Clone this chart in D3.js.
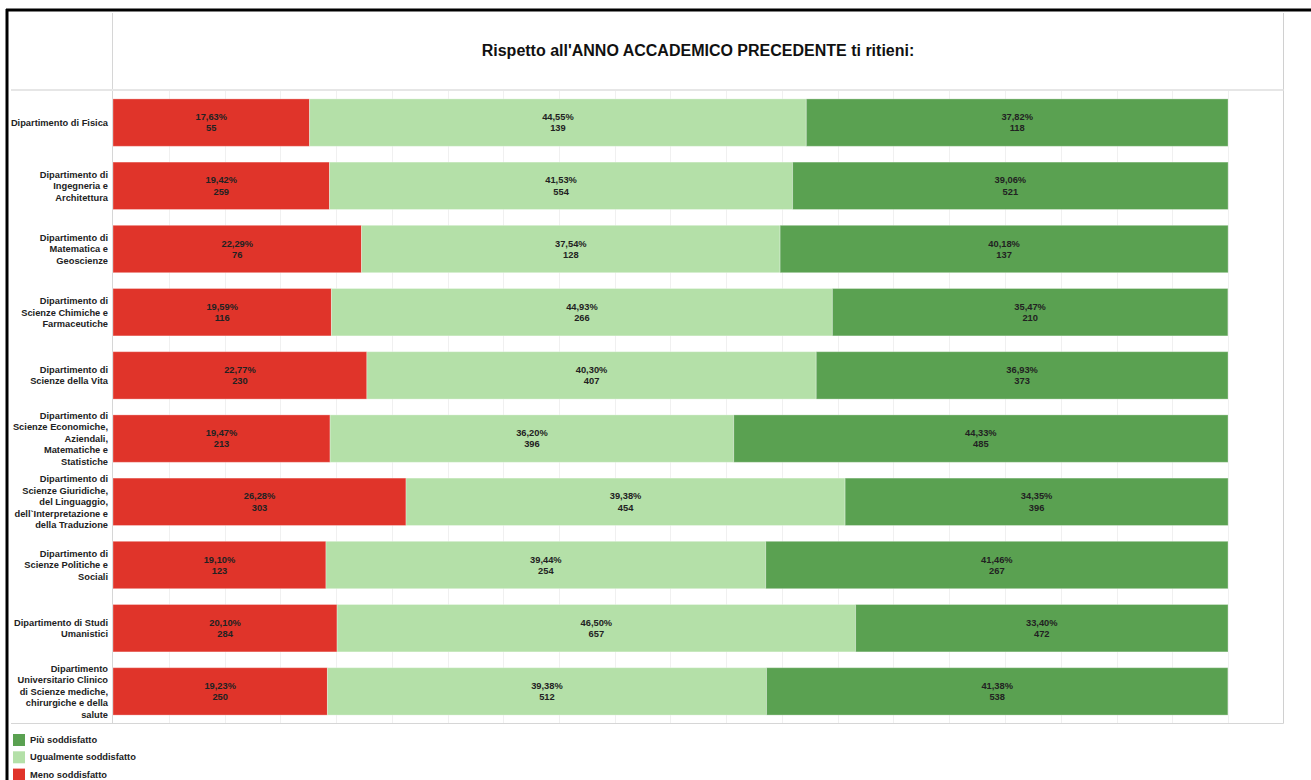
<!DOCTYPE html>
<html>
<head>
<meta charset="utf-8">
<script src="https://cdn.jsdelivr.net/npm/d3@7"></script>
<style>
  html, body { margin: 0; padding: 0; background: #fff; }
  svg { display: block; font-family: Arial, "Liberation Sans", sans-serif; }
</style>
</head>
<body>
<svg id="chart" width="1311" height="780"></svg>
<script>
// Departments (label lines)
const departments = [
  ["Dipartimento di Fisica"],
  ["Dipartimento di", "Ingegneria e", "Architettura"],
  ["Dipartimento di", "Matematica e", "Geoscienze"],
  ["Dipartimento di", "Scienze Chimiche e", "Farmaceutiche"],
  ["Dipartimento di", "Scienze della Vita"],
  ["Dipartimento di", "Scienze Economiche,", "Aziendali,", "Matematiche e", "Statistiche"],
  ["Dipartimento di", "Scienze Giuridiche,", "del Linguaggio,", "dell`Interpretazione e", "della Traduzione"],
  ["Dipartimento di", "Scienze Politiche e", "Sociali"],
  ["Dipartimento di Studi", "Umanistici"],
  ["Dipartimento", "Universitario Clinico", "di Scienze mediche,", "chirurgiche e della", "salute"]
];

// Response categories, stacked left to right
const responses = ["Meno soddisfatto", "Ugualmente soddisfatto", "Più soddisfatto"];
const legendOrder = ["Più soddisfatto", "Ugualmente soddisfatto", "Meno soddisfatto"];
const colors = ["#e0342a", "#b4e0a8", "#5aa151"];

// Shares (%) per department
const pctMeno  = [17.63, 19.42, 22.29, 19.59, 22.77, 19.47, 26.28, 19.10, 20.10, 19.23];
const pctUguale = [44.55, 41.53, 37.54, 44.93, 40.30, 36.20, 39.38, 39.44, 46.50, 39.38];
const pctPiu   = [37.82, 39.06, 40.18, 35.47, 36.93, 44.33, 34.35, 41.46, 33.40, 41.38];

// Response counts per department
const nMeno  = [55, 259, 76, 116, 230, 213, 303, 123, 284, 250];
const nUguale = [139, 554, 128, 266, 407, 396, 454, 254, 657, 512];
const nPiu   = [118, 521, 137, 210, 373, 485, 396, 267, 472, 538];

const titleText = "Rispetto all'ANNO ACCADEMICO PRECEDENTE ti ritieni:";

const pctSeries = [pctMeno, pctUguale, pctPiu];
const countSeries = [nMeno, nUguale, nPiu];

const svg = d3.select("#chart");
const labelSize = 9.3;

// Panel geometry
const panelLeft = 112.5, panelRight = 1283.5, headerBottom = 90, panelBottom = 723;

const x = d3.scaleLinear().domain([0, 105]).range([113, 113 + 1115 * 1.05]);
const y = d3.scaleBand()
  .domain(d3.range(departments.length))
  .range([91, 723])
  .paddingInner(0.25)
  .paddingOuter(0.125);

// Outer black frame (top and left edges)
svg.append("line").attr("x1", 6).attr("x2", 1311).attr("y1", 10).attr("y2", 10)
  .attr("stroke", "#000").attr("stroke-width", 3);
svg.append("line").attr("x1", 7).attr("x2", 7).attr("y1", 9).attr("y2", 780)
  .attr("stroke", "#000").attr("stroke-width", 3);

// Vertical gridlines every 5%
const grid = svg.append("g");
grid.selectAll("line")
  .data(d3.range(5, 105, 5))
  .join("line")
  .attr("x1", d => Math.round(x(d)) + 0.5)
  .attr("x2", d => Math.round(x(d)) + 0.5)
  .attr("y1", headerBottom + 1)
  .attr("y2", panelBottom)
  .attr("stroke", "#f0f0f0")
  .attr("stroke-width", 1);

// Panel borders
svg.append("line").attr("x1", panelLeft).attr("x2", panelLeft).attr("y1", 13).attr("y2", panelBottom)
  .attr("stroke", "#d6d6d6").attr("stroke-width", 1);
svg.append("line").attr("x1", panelRight).attr("x2", panelRight).attr("y1", 13).attr("y2", panelBottom + 0.5)
  .attr("stroke", "#d0d0d0").attr("stroke-width", 1);
svg.append("line").attr("x1", 11).attr("x2", panelRight).attr("y1", headerBottom).attr("y2", headerBottom)
  .attr("stroke", "#e6e6e6").attr("stroke-width", 2);
svg.append("line").attr("x1", 11).attr("x2", panelRight).attr("y1", panelBottom + 0.5).attr("y2", panelBottom + 0.5)
  .attr("stroke", "#d6d6d6").attr("stroke-width", 1);

// Title
svg.append("text")
  .attr("x", (panelLeft + panelRight) / 2)
  .attr("y", 56)
  .attr("text-anchor", "middle")
  .attr("font-size", 16)
  .attr("font-weight", "bold")
  .attr("fill", "#111")
  .text(titleText);

// Stacked segments
const rows = departments.map((d, i) => {
  let acc = 0;
  return responses.map((r, k) => {
    const seg = { row: i, k, x0: acc, x1: acc + pctSeries[k][i], pct: pctSeries[k][i], n: countSeries[k][i] };
    acc += pctSeries[k][i];
    return seg;
  });
}).flat();

const bars = svg.append("g");
bars.selectAll("rect")
  .data(rows)
  .join("rect")
  .attr("x", d => x(d.x0))
  .attr("y", d => y(d.row))
  .attr("width", d => x(d.x1) - x(d.x0))
  .attr("height", y.bandwidth())
  .attr("fill", d => colors[d.k])
  .attr("stroke", "#ffffff")
  .attr("stroke-opacity", 0.3)
  .attr("stroke-width", 1);

const fmt = v => v.toFixed(2).replace(".", ",") + "%";

const labels = svg.append("g")
  .attr("font-size", labelSize)
  .attr("font-weight", "bold")
  .attr("fill", "#222")
  .attr("text-anchor", "middle");
rows.forEach(d => {
  const cx = (x(d.x0) + x(d.x1)) / 2;
  const cy = y(d.row) + y.bandwidth() / 2;
  labels.append("text").attr("x", cx).attr("y", cy - 2.5).text(fmt(d.pct));
  labels.append("text").attr("x", cx).attr("y", cy + 8.7).text(d.n);
});

// Department labels
const cat = svg.append("g")
  .attr("font-size", labelSize)
  .attr("font-weight", "bold")
  .attr("fill", "#222")
  .attr("text-anchor", "end");
departments.forEach((lines, i) => {
  const cy = y(i) + y.bandwidth() / 2;
  const lh = 11.5;
  const top = cy - (lines.length - 1) * lh / 2;
  const t = cat.append("text");
  lines.forEach((ln, j) => {
    t.append("tspan").attr("x", 108).attr("y", top + j * lh + 3.3).text(ln);
  });
});

// Legend
const legend = svg.append("g").attr("font-size", labelSize).attr("font-weight", "bold").attr("fill", "#222");
legendOrder.forEach((name, j) => {
  const k = responses.indexOf(name);
  const ly = 734 + j * 17.3;
  legend.append("rect").attr("x", 13).attr("y", ly).attr("width", 12).attr("height", 12).attr("fill", colors[k]);
  legend.append("text").attr("x", 30).attr("y", ly + 9).text(name);
});
</script>
</body>
</html>
